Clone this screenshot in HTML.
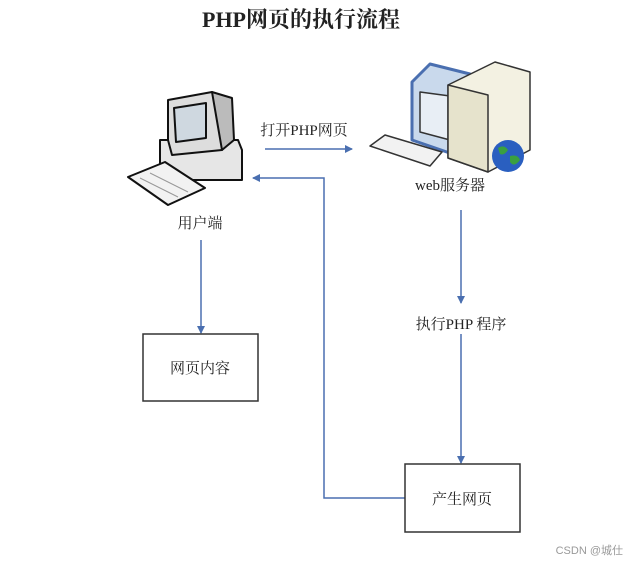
<!DOCTYPE html>
<html><head><meta charset="utf-8"><style>
html,body{margin:0;padding:0;background:#fff;width:637px;height:564px;overflow:hidden}
svg text{font-family:"Liberation Serif","Noto Serif CJK SC",serif;fill:#222}
</style></head><body>
<svg width="637" height="564" viewBox="0 0 637 564" xmlns="http://www.w3.org/2000/svg">
<defs><marker id="a" markerWidth="8" markerHeight="8" refX="7" refY="4" orient="auto" markerUnits="userSpaceOnUse"><path d="M0,0 L8,4 L0,8z" fill="#4a6fb0"/></marker></defs>
<text x="301" y="27" font-size="22" font-weight="bold" text-anchor="middle" fill="#000">PHP网页的执行流程</text>

<g stroke="#111" stroke-width="2" stroke-linejoin="round">
<polygon points="160,140 238,140 242,150 242,180 165,180 160,170" fill="#e6e6e6"/>
<polygon points="168,100 212,92 222,102 222,150 172,155 168,140" fill="#ddd"/>
<polygon points="174,108 206,103 206,138 176,142" fill="#cfd8e0"/>
<polygon points="212,92 232,98 234,140 222,150" fill="#bbb"/>
<polygon points="128,177 165,162 205,188 168,205" fill="#f2f2f2"/>
</g>
<g stroke="#999" stroke-width="1"><line x1="140" y1="178" x2="178" y2="197"/><line x1="150" y1="173" x2="188" y2="192"/></g>
<text x="200" y="228" font-size="15" text-anchor="middle">用户端</text>

<g stroke="#333" stroke-width="1.5" stroke-linejoin="round">
<polygon points="412,82 430,64 470,74 470,160 412,140" fill="#c9d9ec" stroke="#4a6fb0" stroke-width="3"/>
<polygon points="420,92 450,96 450,140 420,132" fill="#e8eef5"/>
<polygon points="448,85 495,62 530,72 530,150 488,172 448,158" fill="#f3f1e2"/>
<polygon points="448,85 488,95 488,172 448,158" fill="#e6e3cc"/>
<polygon points="370,146 385,135 442,152 430,166" fill="#f2f2f2"/>
</g>
<circle cx="508" cy="156" r="16" fill="#2a5fc0"/>
<path d="M498,148 q6,-4 10,2 q-4,6 -8,4z M510,156 q8,-2 10,4 q-6,8 -10,2z" fill="#3aa040"/>
<text x="450" y="190" font-size="15" text-anchor="middle">web服务器</text>

<g stroke="#4a6fb0" stroke-width="1.5" fill="none">
<line x1="265" y1="149" x2="352" y2="149" marker-end="url(#a)"/>
<polyline points="405,498 324,498 324,178 253,178" marker-end="url(#a)"/>
<line x1="201" y1="240" x2="201" y2="333" marker-end="url(#a)"/>
<line x1="461" y1="210" x2="461" y2="303" marker-end="url(#a)"/>
<line x1="461" y1="334" x2="461" y2="463" marker-end="url(#a)"/>
</g>
<text x="304" y="135" font-size="15" text-anchor="middle">打开PHP网页</text>
<text x="461" y="329" font-size="15" text-anchor="middle">执行PHP 程序</text>

<rect x="143" y="334" width="115" height="67" fill="#fff" stroke="#333" stroke-width="1.5"/>
<text x="200" y="373" font-size="15" text-anchor="middle">网页内容</text>
<rect x="405" y="464" width="115" height="68" fill="#fff" stroke="#333" stroke-width="1.5"/>
<text x="462" y="504" font-size="15" text-anchor="middle">产生网页</text>

<text x="623" y="554" font-size="11" text-anchor="end" style="font-family:'Liberation Sans','Noto Sans CJK SC',sans-serif;fill:#999">CSDN @城仕</text>
</svg>
</body></html>
